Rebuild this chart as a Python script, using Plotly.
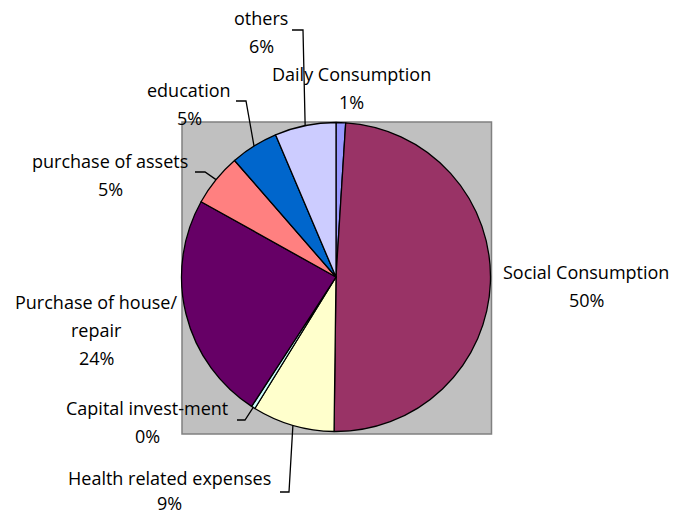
import math
import plotly.graph_objects as go

# ---- data ----
categories = ["Daily Consumption", "Social Consumption", "Health related expenses",
              "Capital invest-ment", "Purchase of house/repair", "purchase of assets",
              "education", "others"]
values = [1.0, 49.2, 8.6, 0.4, 23.9, 5.5, 5.0, 6.4]
pct_labels = ["1%", "50%", "9%", "0%", "24%", "5%", "5%", "6%"]
colors = ["#9999FF", "#993366", "#FFFFCC", "#CCFFFF", "#660066", "#FF8080", "#0066CC", "#CCCCFF"]

# ---- layout constants (pixels) ----
W, H = 674, 516
CX, CY, R = 336.0, 277.0, 154.5


def px(x):
    return x / W


def py(y):
    return 1 - y / H


fig = go.Figure(go.Pie(
    labels=categories, values=values, sort=False, direction="clockwise", rotation=0,
    marker=dict(colors=colors, line=dict(color="black", width=1.3)),
    textinfo="none", hoverinfo="label+percent", showlegend=False,
    domain=dict(x=[px(CX - R), px(CX + R)], y=[py(CY + R), py(CY - R)]),
))

shapes = [dict(type="rect", xref="paper", yref="paper", layer="below",
               x0=px(182), x1=px(491.5), y0=py(434), y1=py(122),
               fillcolor="#C0C0C0", line=dict(color="#808080", width=1.5))]

# slice midpoints on the rim
total = sum(values)
mids = []
cum = 0.0
for v in values:
    th = 2 * math.pi * (cum + v / 2) / total
    mids.append((CX + R * math.sin(th), CY - R * math.cos(th)))
    cum += v

# label placement: (center x, first line y, line gap, lines)
label_pos = {
    "Daily Consumption": (351.5, 74, 28, ["Daily Consumption"]),
    "Social Consumption": (586, 272, 28, ["Social Consumption"]),
    "Health related expenses": (169, 478, 25, ["Health related expenses"]),
    "Capital invest-ment": (147, 408, 28, ["Capital invest-ment"]),
    "Purchase of house/repair": (96, 302, 28, ["Purchase of house/", "repair"]),
    "purchase of assets": (110, 161, 28, ["purchase of assets"]),
    "education": (189, 90, 28, ["education"]),
    "others": (261, 18, 28, ["others"]),
}
# leader line starts (label side): (x start, x bend, y)
leaders = {
    "Health related expenses": (280, 289, 492),
    "Capital invest-ment": (237, 245, 420),
    "purchase of assets": (195, 205, 172),
    "education": (236, 246, 101),
    "others": (292, 303, 30),
}

annotations = []
for i, cat in enumerate(categories):
    x, y0, gap, lines = label_pos[cat]
    for j, t in enumerate(lines + [pct_labels[i]]):
        annotations.append(dict(
            x=px(x), y=py(y0 + j * gap), xref="paper", yref="paper",
            text=t, showarrow=False, xanchor="center", yanchor="middle",
            font=dict(family="Open Sans", size=18, color="black")))
    if cat in leaders:
        xs, xb, yl = leaders[cat]
        mx, my = mids[i]
        shapes.append(dict(
            type="path", xref="paper", yref="paper",
            path=f"M {px(xs)} {py(yl)} L {px(xb)} {py(yl)} L {px(mx)} {py(my)}",
            line=dict(color="black", width=1.3)))

fig.update_layout(
    width=W, height=H, margin=dict(l=0, r=0, t=0, b=0),
    paper_bgcolor="white", plot_bgcolor="white",
    shapes=shapes, annotations=annotations,
)

fig.write_html("out.html")
